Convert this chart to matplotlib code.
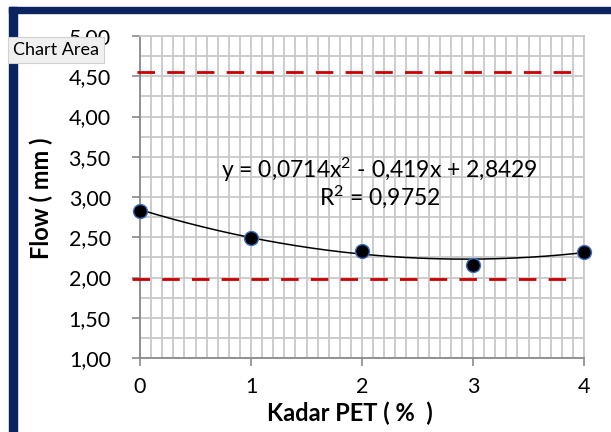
import matplotlib
matplotlib.use("Agg")
import matplotlib.pyplot as plt
import numpy as np
from matplotlib.patches import Rectangle
from matplotlib.ticker import MultipleLocator, FuncFormatter

# ---- data ----
kadar_pet = [0, 1, 2, 3, 4]
flow = [2.83, 2.49, 2.33, 2.16, 2.32]
coef = [0.0714, -0.419, 2.8429]          # trendline from the equation label
r2 = 0.9752
upper_limit = 4.55
lower_limit = 1.98
x_ticks = [0, 1, 2, 3, 4]
y_ticks = [1.0, 1.5, 2.0, 2.5, 3.0, 3.5, 4.0, 4.5, 5.0]

plt.rcParams['font.family'] = ['Lato', 'DejaVu Sans']
plt.rcParams['mathtext.fontset'] = 'custom'
plt.rcParams['mathtext.rm'] = 'Lato'
plt.rcParams['mathtext.it'] = 'Lato'
plt.rcParams['mathtext.default'] = 'rm'

W, H = 611, 432
fig = plt.figure(figsize=(W / 100, H / 100), dpi=100)
fig.patch.set_facecolor('white')

# navy window borders
navy = '#0b2460'
fig.patches.append(Rectangle((9 / W, 1 - 13 / H), 1 - 9 / W, 6 / H,
                             transform=fig.transFigure, color=navy, zorder=0))
fig.patches.append(Rectangle((9 / W, 0), 8 / W, 1 - 7 / H,
                             transform=fig.transFigure, color=navy, zorder=0))

ax = fig.add_axes([140 / W, 1 - 358 / H, 444 / W, 322 / H])
ax.set_xlim(0, 4)
ax.set_ylim(1.0, 5.0)

grid_c = '#c8c8c8'
ax.xaxis.set_major_locator(MultipleLocator(1))
ax.xaxis.set_minor_locator(MultipleLocator(0.1))
ax.yaxis.set_major_locator(MultipleLocator(0.5))
ax.yaxis.set_minor_locator(MultipleLocator(0.25))
ax.grid(which='both', color=grid_c, linewidth=1.3)
ax.set_axisbelow(True)
ax.tick_params(which='minor', length=0)
ax.tick_params(which='major', direction='out', length=6, width=1.2,
               color='#8a8a8a', labelsize=15.5, colors='#8a8a8a',
               labelcolor='black')
ax.tick_params(axis='y', pad=15)
ax.tick_params(axis='x', pad=8)
ax.set_xticks(x_ticks)
ax.set_yticks(y_ticks)
ax.yaxis.set_major_formatter(FuncFormatter(lambda v, p: f"{v:.2f}".replace('.', ',')))
ax.xaxis.set_major_formatter(FuncFormatter(lambda v, p: f"{v:.0f}"))
for s in ['top', 'right']:
    ax.spines[s].set_color(grid_c)
    ax.spines[s].set_linewidth(1.3)
for s in ['left', 'bottom']:
    ax.spines[s].set_color('#8a8a8a')
    ax.spines[s].set_linewidth(1.3)

# limit lines (dashed red)
ax.plot([-0.03, 3.95], [upper_limit, upper_limit], color='#cc0000', lw=2.0,
        dashes=(6.3, 4.4), clip_on=False, zorder=3)
ax.plot([-0.07, 3.91], [lower_limit, lower_limit], color='#cc0000', lw=2.0,
        dashes=(6.3, 4.4), clip_on=False, zorder=3)

# trendline
xs = np.linspace(0, 4, 200)
ax.plot(xs, np.polyval(coef, xs), color='black', lw=1.1, zorder=4)

# data points
ax.plot(kadar_pet, flow, linestyle='none', marker='o', markersize=10,
        markerfacecolor='black', markeredgecolor='#3a6fc4', markeredgewidth=1.0,
        clip_on=False, zorder=5)

c0 = f"{coef[0]:.4f}".replace('.', ',')
c1 = f"{abs(coef[1]):.3f}".replace('.', ',')
c2 = f"{coef[2]:.4f}".replace('.', ',')
rr = f"{r2:.4f}".replace('.', ',')
ax.text(2.16, 3.34, f"y = {c0}x$^{{2}}$ - {c1}x + {c2}", ha='center',
        va='center', fontsize=16.5, zorder=6)
ax.text(2.16, 3.0, f"R$^{{2}}$ = {rr}", ha='center', va='center',
        fontsize=16.5, zorder=6)

# axis titles
fig.text(350 / W, 1 - 413 / H, 'Kadar PET ( %  )', fontsize=17,
         fontweight='bold', ha='center', va='center')
fig.text(41 / W, 1 - 198 / H, 'Flow ( mm )', fontsize=17, fontweight='bold',
         ha='center', va='center', rotation=90)

# "Chart Area" tooltip
fig.text(13 / W, 1 - 50 / H, 'Chart Area', fontsize=13, va='center', ha='left',
         bbox=dict(boxstyle='square,pad=0.3', facecolor='#f0f0f0',
                   edgecolor='#d0d0d0', linewidth=0.8), zorder=10)

fig.savefig('out.png', dpi=100, facecolor='white')
